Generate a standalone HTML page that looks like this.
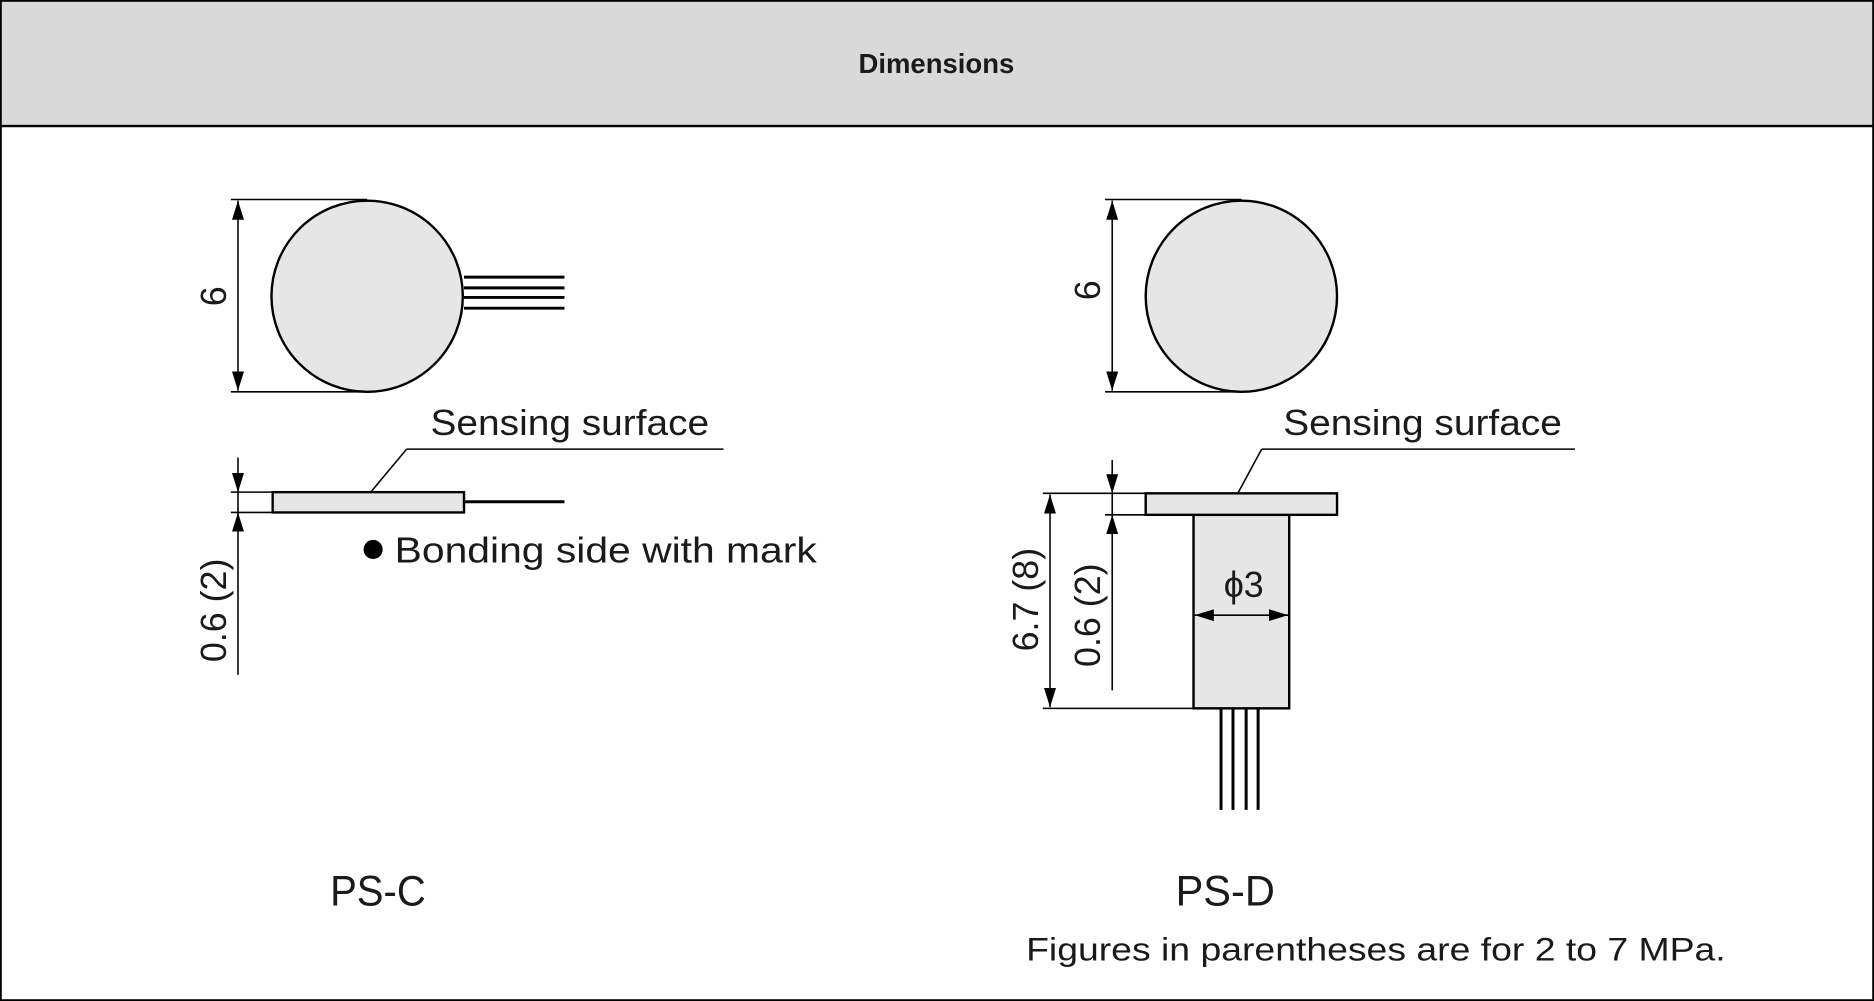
<!DOCTYPE html>
<html><head><meta charset="utf-8"><style>
html,body{margin:0;padding:0;background:#fff;}
svg{display:block;}
text{font-family:"Liberation Sans",sans-serif;fill:#1a1a1a;}
</style></head><body>
<svg width="1874" height="1001" viewBox="0 0 1567 838" preserveAspectRatio="none" xmlns="http://www.w3.org/2000/svg">
<defs>
<marker id="a" viewBox="0 0 16 10" refX="16" refY="5" markerWidth="16" markerHeight="10" markerUnits="userSpaceOnUse" orient="auto-start-reverse"><path d="M0,0 L16,5 L0,10 z" fill="#000"/></marker>
</defs>
<rect x="0.5" y="0.5" width="1566" height="837" fill="#fff" stroke="#000" stroke-width="2"/>
<rect x="0.5" y="0.5" width="1566" height="105" fill="#d9d9d9" stroke="#000" stroke-width="2"/>
<text x="783" y="61" font-size="23" font-weight="bold" text-anchor="middle">Dimensions</text>

<g stroke="#000" fill="none" stroke-width="1.3">
<circle cx="307" cy="248" r="80" fill="#e6e6e6" stroke-width="2"/>
<line x1="388" y1="232" x2="472" y2="232" stroke-width="2.5"/>
<line x1="388" y1="241" x2="472" y2="241" stroke-width="2.5"/>
<line x1="388" y1="249" x2="472" y2="249" stroke-width="2.5"/>
<line x1="388" y1="258" x2="472" y2="258" stroke-width="2.5"/>
<line x1="193" y1="167" x2="307" y2="167"/>
<line x1="193" y1="328" x2="307" y2="328"/>
<line x1="199" y1="168" x2="199" y2="327" marker-start="url(#a)" marker-end="url(#a)"/>
<rect x="228" y="412" width="160" height="17" fill="#e6e6e6" stroke-width="2"/>
<line x1="388" y1="420" x2="472" y2="420" stroke-width="2.5"/>
<line x1="340" y1="376" x2="605" y2="376"/>
<line x1="340" y1="376" x2="310" y2="412"/>
<line x1="193" y1="412" x2="228" y2="412"/>
<line x1="193" y1="429" x2="228" y2="429"/>
<line x1="199" y1="383" x2="199" y2="412" marker-end="url(#a)"/>
<line x1="199" y1="565" x2="199" y2="429" marker-end="url(#a)"/>
<line x1="199" y1="412" x2="199" y2="429"/>

<circle cx="1038" cy="248" r="80" fill="#e6e6e6" stroke-width="2"/>
<line x1="924" y1="167" x2="1038" y2="167"/>
<line x1="924" y1="328" x2="1038" y2="328"/>
<line x1="930" y1="168" x2="930" y2="327" marker-start="url(#a)" marker-end="url(#a)"/>
<rect x="998" y="431" width="80" height="162" fill="#e6e6e6" stroke-width="2"/>
<rect x="958" y="413" width="160" height="18" fill="#e6e6e6" stroke-width="2"/>
<line x1="1021" y1="593" x2="1021" y2="678" stroke-width="2.5"/>
<line x1="1031" y1="593" x2="1031" y2="678" stroke-width="2.5"/>
<line x1="1042" y1="593" x2="1042" y2="678" stroke-width="2.5"/>
<line x1="1052" y1="593" x2="1052" y2="678" stroke-width="2.5"/>
<line x1="1055" y1="376" x2="1317" y2="376"/>
<line x1="1055" y1="376" x2="1035" y2="413"/>
<line x1="872" y1="413" x2="958" y2="413"/>
<line x1="924" y1="431" x2="998" y2="431"/>
<line x1="872" y1="593" x2="998" y2="593"/>
<line x1="930" y1="385" x2="930" y2="413" marker-end="url(#a)"/>
<line x1="930" y1="578" x2="930" y2="431" marker-end="url(#a)"/>
<line x1="930" y1="413" x2="930" y2="431"/>
<line x1="878" y1="414" x2="878" y2="592" marker-start="url(#a)" marker-end="url(#a)"/>
<line x1="999" y1="515" x2="1077" y2="515" marker-start="url(#a)" marker-end="url(#a)"/>
</g>
<circle cx="312" cy="460" r="8" fill="#000"/>

<g font-size="30">
<text transform="translate(189,248) rotate(-90)" text-anchor="middle">6</text>
<text transform="translate(920,243) rotate(-90)" text-anchor="middle">6</text>
<text x="360" y="364" textLength="233" lengthAdjust="spacingAndGlyphs">Sensing surface</text>
<text x="1073" y="364" textLength="233" lengthAdjust="spacingAndGlyphs">Sensing surface</text>
<text x="330" y="471" textLength="353" lengthAdjust="spacingAndGlyphs">Bonding side with mark</text>
<text transform="translate(189,511) rotate(-90)" text-anchor="middle">0.6 (2)</text>
<text transform="translate(920,515) rotate(-90)" text-anchor="middle">0.6 (2)</text>
<text transform="translate(868,502) rotate(-90)" text-anchor="middle">6.7 (8)</text>
<text x="1040" y="500" text-anchor="middle">ϕ3</text>
</g>
<text x="276" y="758" font-size="36" textLength="80" lengthAdjust="spacingAndGlyphs">PS-C</text>
<text x="983" y="758" font-size="36" textLength="83" lengthAdjust="spacingAndGlyphs">PS-D</text>
<text x="858" y="804" font-size="27" textLength="585" lengthAdjust="spacingAndGlyphs">Figures in parentheses are for 2 to 7 MPa.</text>
</svg>
</body></html>
